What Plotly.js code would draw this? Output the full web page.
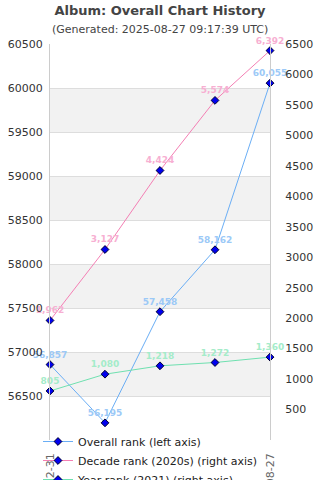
<!DOCTYPE html>
<html>
<head>
<meta charset="utf-8">
<script src="https://cdn.plot.ly/plotly-3.0.1.min.js"></script>
<style>
html,body{margin:0;padding:0;background:#fff;}
#chart{width:320px;height:480px;}
</style>
</head>
<body>
<div id="chart"></div>
<script>
// ---- data ----
const dates = ["2021-12-31", "2022-12-31", "2023-12-31", "2024-12-31", "2025-08-27"];
const overallRank = [56857, 56195, 57458, 58162, 60055];
const decadeRank = [1962, 3127, 4424, 5574, 6392];
const yearRank = [805, 1080, 1218, 1272, 1360];
const visibleDateTicks = ["2021-12-31", "2025-08-27"];
const leftTicks = [56500, 57000, 57500, 58000, 58500, 59000, 59500, 60000, 60500];
const rightTicks = [500, 1000, 1500, 2000, 2500, 3000, 3500, 4000, 4500, 5000, 5500, 6000, 6500];
const seriesNames = ["Overall rank (left axis)", "Decade rank (2020s) (right axis)", "Year rank (2021) (right axis)"];
const titleText = "Album: Overall Chart History";
const subtitleText = "(Generated: 2025-08-27 09:17:39 UTC)";

const fmt = v => v.toLocaleString("en-US");
const marker = {symbol: "diamond", size: 6, color: "#0000ee", line: {color: "#000033", width: 1}};

function trace(y, name, lineColor, textColor, axis) {
  return {
    x: dates, y: y, name: name, yaxis: axis,
    type: "scatter", mode: "lines+markers+text",
    line: {color: lineColor, width: 1},
    marker: marker,
    text: y.map(fmt), textposition: "top center",
    textfont: {family: "DejaVu Sans", size: 9, color: textColor, weight: "bold"},
    cliponaxis: false
  };
}

const data = [
  trace(overallRank, seriesNames[0], "#6aaef5", "#9cc9f7", "y"),
  trace(decadeRank, seriesNames[1], "#f47fb4", "#f7afd2", "y2"),
  trace(yearRank, seriesNames[2], "#6fe0b0", "#a4ecc9", "y2")
];

// alternating bands between left-axis gridlines
const shapes = [];
for (let i = 0; i + 1 < leftTicks.length; i += 2) {
  shapes.push({type: "rect", xref: "paper", x0: 0, x1: 1, yref: "y",
    y0: leftTicks[i], y1: leftTicks[i + 1], fillcolor: "#f2f2f2", line: {width: 0}, layer: "below"});
}

const layout = {
  width: 320, height: 480,
  margin: {l: 50, r: 50, t: 44, b: 40, pad: 0, autoexpand: false},
  paper_bgcolor: "#ffffff", plot_bgcolor: "#ffffff",
  font: {family: "DejaVu Sans", size: 11, color: "#333"},
  showlegend: true,
  title: {text: "<b>" + titleText + "</b>", font: {family: "DejaVu Sans", size: 13, color: "#444"},
    xref: "paper", x: 0.5, xanchor: "center", yref: "container", y: 1 - 10 / 480, yanchor: "middle"},
  annotations: [{text: subtitleText, xref: "paper", x: 0.5, xanchor: "center",
    yref: "paper", y: (440 - 29) / 396, yanchor: "middle", showarrow: false,
    font: {family: "DejaVu Sans", size: 11, color: "#444"}}],
  xaxis: {type: "category", range: [0, dates.length - 1], showgrid: false, zeroline: false,
    showline: false, ticks: "", tickangle: -90, tickmode: "array", tickvals: visibleDateTicks,
    tickfont: {size: 11, color: "#666"}, ticklabelstandoff: 10, automargin: false},
  yaxis: {range: [56000, 60500], tickvals: leftTicks, ticktext: leftTicks.map(String),
    showgrid: true, gridcolor: "#dddddd", zeroline: false, showline: true, linecolor: "#cccccc",
    ticks: "", tickfont: {size: 11, color: "#333"}, ticklabelstandoff: 4, automargin: false},
  yaxis2: {range: [0, 6500], tickvals: rightTicks, ticktext: rightTicks.map(String),
    overlaying: "y", side: "right", showgrid: false, zeroline: false, showline: true, linecolor: "#cccccc",
    ticks: "", tickfont: {size: 11, color: "#333"}, ticklabelstandoff: 12, automargin: false},
  legend: {x: (38 - 50) / 220, xanchor: "left", y: (440 - 427) / 396, yanchor: "top", yref: "paper",
    bgcolor: "rgba(255,255,255,0)", borderwidth: 0, itemwidth: 30, font: {size: 11, color: "#222"}},
  shapes: shapes
};

Plotly.newPlot("chart", data, layout, {staticPlot: true, displayModeBar: false});
</script>
</body>
</html>
